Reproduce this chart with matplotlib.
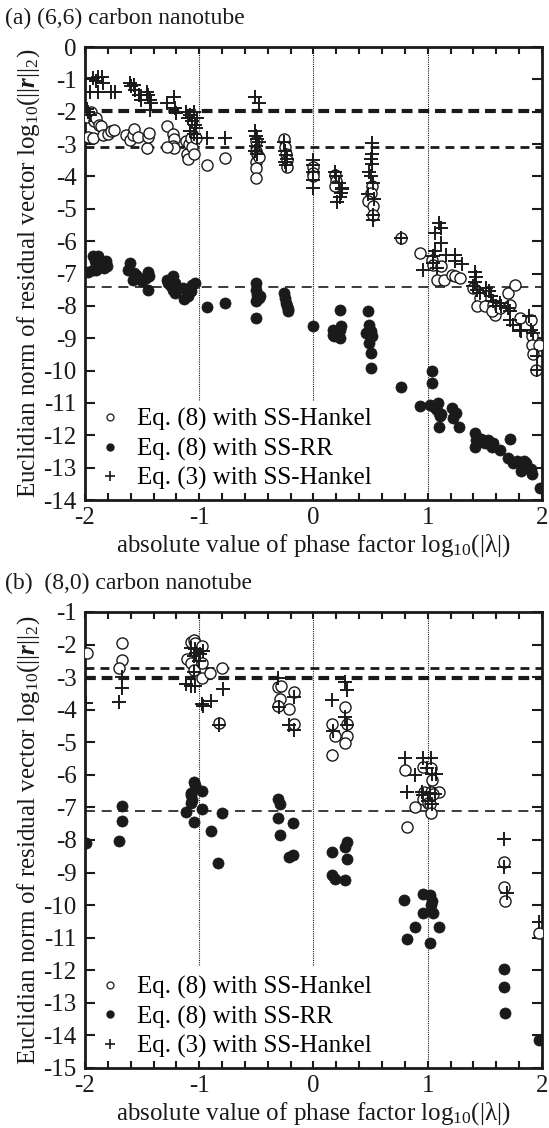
"""
Residual norm vs. phase factor for (6,6) and (8,0) carbon nanotubes.
Saves out.png.
"""

import matplotlib
matplotlib.use("Agg")
import matplotlib.pyplot as plt
from matplotlib.lines import Line2D
from matplotlib.ticker import MultipleLocator

plt.rcParams["font.family"] = ["Liberation Serif", "DejaVu Serif"]
plt.rcParams["mathtext.fontset"] = "custom"
plt.rcParams["mathtext.rm"] = "Liberation Serif"
plt.rcParams["mathtext.it"] = "Liberation Serif:italic"
plt.rcParams["mathtext.bf"] = "Liberation Serif:bold"
plt.rcParams["mathtext.bfit"] = "Liberation Serif:italic:bold"
plt.rcParams["axes.unicode_minus"] = False

INK = "#1a1a1a"

# ---- panel (a): (6,6) nanotube ----
a_h8 = [(-1.98, -2.15), (-1.95, -2.0), (-1.92, -2.3), (-1.90, -2.2), (-1.88, -2.4), (-1.86, -2.45),
        (-1.97, -2.77), (-1.93, -2.82), (-1.84, -2.72), (-1.80, -2.7), (-1.77, -2.6), (-1.75, -2.55),
        (-1.64, -2.72), (-1.61, -2.87), (-1.58, -2.72), (-1.57, -2.52), (-1.54, -2.77), (-1.46, -3.13),
        (-1.45, -2.77), (-1.44, -2.65), (-1.28, -2.45), (-1.23, -2.7), (-1.22, -2.85), (-1.23, -3.05),
        (-1.22, -3.13), (-1.28, -3.1), (-1.12, -2.9), (-1.11, -3.3), (-1.10, -3.45), (-1.09, -3.0),
        (-1.07, -2.8), (-1.06, -3.1), (-1.05, -3.3), (-1.03, -2.8), (-0.935, -3.64), (-0.775, -3.44),
        (-0.50, -2.9), (-0.50, -3.2), (-0.50, -3.55), (-0.50, -3.75), (-0.50, -4.05), (-0.49, -3.3),
        (-0.48, -3.4), (-0.26, -2.85), (-0.25, -3.1), (-0.24, -3.3), (-0.23, -3.5), (-0.23, -3.7),
        (0.0, -3.7), (0.0, -3.9), (0.0, -4.0), (0.19, -3.95), (0.20, -4.15), (0.19, -4.3),
        (0.51, -4.3), (0.50, -4.5), (0.48, -4.75), (0.52, -4.9), (0.52, -5.2), (0.77, -5.9),
        (0.93, -6.37), (1.035, -6.57), (1.05, -6.73), (1.12, -6.78), (1.08, -7.19), (1.14, -7.19),
        (1.21, -7.04), (1.24, -7.09), (1.28, -7.14), (1.40, -7.45), (1.46, -7.76), (1.43, -8.01),
        (1.50, -8.01), (1.57, -7.96), (1.59, -8.27), (1.56, -8.17), (1.63, -8.07), (1.70, -7.6),
        (1.72, -7.96), (1.76, -7.35), (1.81, -8.38), (1.90, -8.43), (1.91, -8.94), (1.91, -9.2),
        (1.92, -9.5), (1.95, -9.97), (1.97, -9.2)]
a_h8_x = [p[0] for p in a_h8]
a_h8_y = [p[1] for p in a_h8]

a_h3 = [(-1.98, -1.9), (-1.97, -2.0), (-1.96, -2.1), (-1.96, -1.38), (-1.93, -0.97), (-1.90, -1.05),
        (-1.89, -0.92), (-1.85, -0.92), (-1.84, -1.1), (-1.89, -1.4), (-1.77, -1.38), (-1.74, -1.38),
        (-1.61, -1.12), (-1.60, -1.2), (-1.57, -1.17), (-1.56, -1.33), (-1.53, -1.48), (-1.51, -1.64),
        (-1.46, -1.38), (-1.45, -1.48), (-1.43, -1.64), (-1.42, -1.74), (-1.43, -1.95), (-1.28, -1.74),
        (-1.22, -1.53), (-1.21, -1.89), (-1.20, -2.05), (-1.12, -2.0), (-1.10, -2.2), (-1.08, -2.1),
        (-1.06, -2.3), (-1.05, -2.0), (-1.04, -2.4), (-1.03, -2.5), (-1.02, -2.2), (-1.08, -2.6),
        (-1.05, -2.7), (-1.02, -2.8), (-0.935, -2.82), (-0.775, -2.82), (-0.51, -1.53), (-0.48, -1.74),
        (-0.51, -2.6), (-0.50, -2.75), (-0.49, -2.85), (-0.48, -2.95), (-0.50, -3.05), (-0.51, -3.2),
        (-0.49, -3.3), (-0.26, -2.95), (-0.25, -3.2), (-0.24, -3.35), (-0.23, -3.45), (-0.25, -3.55),
        (-0.24, -3.65), (0.0, -3.5), (0.0, -3.65), (0.0, -3.85), (0.0, -4.1), (0.0, -4.35),
        (0.19, -3.85), (0.20, -4.0), (0.22, -4.2), (0.25, -4.35), (0.24, -4.5), (0.23, -4.65),
        (0.21, -4.8), (0.25, -4.4), (0.51, -2.97), (0.51, -3.3), (0.50, -3.45), (0.51, -3.6),
        (0.49, -3.85), (0.50, -4.0), (0.52, -4.2), (0.48, -4.55), (0.53, -4.7), (0.52, -5.2),
        (0.52, -5.35), (0.77, -5.9), (1.06, -5.75), (1.10, -5.45), (1.12, -5.6), (1.12, -6.06),
        (1.06, -6.3), (1.05, -6.45), (1.16, -6.42), (1.05, -6.68), (0.96, -6.88), (1.08, -6.82),
        (1.24, -6.42), (1.24, -6.6), (1.30, -6.7), (1.41, -6.94), (1.42, -7.1), (1.41, -7.25),
        (1.40, -7.4), (1.43, -7.5), (1.46, -7.6), (1.51, -7.45), (1.54, -7.55), (1.55, -7.7),
        (1.57, -7.85), (1.60, -8.0), (1.63, -7.9), (1.64, -8.0), (1.70, -8.05), (1.72, -8.15),
        (1.72, -8.45), (1.75, -8.6), (1.81, -8.73), (1.82, -8.78), (1.89, -8.3), (1.90, -8.73),
        (1.92, -8.83), (1.96, -9.55), (1.96, -9.97)]
a_h3_x = [p[0] for p in a_h3]
a_h3_y = [p[1] for p in a_h3]

a_rr = [(-1.97, -6.94), (-1.93, -6.47), (-1.91, -6.6), (-1.89, -6.47), (-1.90, -6.88), (-1.93, -6.88),
        (-1.85, -6.68), (-1.82, -6.62), (-1.81, -6.77), (-1.83, -6.82), (-1.86, -6.77), (-1.61, -6.68),
        (-1.62, -6.88), (-1.57, -6.99), (-1.58, -7.19), (-1.55, -7.04), (-1.53, -7.14), (-1.50, -7.24),
        (-1.47, -7.14), (-1.45, -6.94), (-1.44, -7.09), (-1.45, -7.5), (-1.28, -7.19), (-1.27, -7.29),
        (-1.23, -7.09), (-1.21, -7.29), (-1.23, -7.5), (-1.21, -7.6), (-1.25, -7.4), (-1.14, -7.45),
        (-1.13, -7.8), (-1.10, -7.7), (-1.09, -7.5), (-1.07, -7.55), (-1.06, -7.35), (-1.04, -7.29),
        (-0.935, -8.03), (-0.775, -7.91), (-0.50, -7.29), (-0.50, -7.5), (-0.49, -7.65), (-0.48, -7.75),
        (-0.50, -7.86), (-0.47, -7.7), (-0.50, -8.38), (-0.26, -7.6), (-0.25, -7.75), (-0.24, -7.9),
        (-0.23, -8.0), (-0.22, -8.1), (-0.22, -8.17), (0.0, -8.63), (0.23, -8.12), (0.17, -8.73),
        (0.18, -8.94), (0.19, -8.84), (0.23, -8.73), (0.24, -8.63), (0.23, -8.99), (0.17, -8.9),
        (0.48, -8.17), (0.49, -8.58), (0.46, -8.84), (0.50, -8.78), (0.51, -8.94), (0.49, -9.15),
        (0.50, -9.46), (0.50, -9.92), (0.77, -10.5), (0.93, -11.1), (1.04, -10.02), (1.04, -10.38),
        (1.02, -11.05), (1.05, -11.1), (1.07, -11.2), (1.09, -11.0), (1.10, -11.3), (1.11, -11.4),
        (1.12, -11.35), (1.10, -11.75), (1.21, -11.15), (1.22, -11.45), (1.25, -11.3), (1.27, -11.75),
        (1.41, -11.92), (1.42, -12.15), (1.41, -12.35), (1.44, -12.2), (1.47, -12.1), (1.50, -12.25),
        (1.53, -12.15), (1.55, -12.3), (1.56, -12.35), (1.57, -12.25), (1.63, -12.44), (1.72, -12.1),
        (1.70, -12.7), (1.75, -12.85), (1.78, -12.8), (1.82, -12.9), (1.84, -12.8), (1.86, -12.85),
        (1.82, -13.1), (1.88, -13.0), (1.90, -13.05), (1.91, -13.2), (1.98, -13.62)]
a_rr_x = [p[0] for p in a_rr]
a_rr_y = [p[1] for p in a_rr]

# ---- panel (b): (8,0) nanotube ----
b_h8 = [(-1.985, -2.25), (-1.68, -1.96), (-1.68, -2.49), (-1.70, -2.71), (-1.11, -2.46), (-1.07, -1.91),
        (-1.05, -1.86), (-1.04, -1.96), (-1.07, -2.58), (-1.05, -2.78), (-0.98, -2.06), (-0.98, -2.58),
        (-0.98, -3.04), (-0.91, -2.86), (-0.80, -2.73), (-0.83, -4.4), (-0.31, -3.29), (-0.28, -3.27),
        (-0.29, -3.68), (-0.31, -3.89), (-0.21, -3.99), (-0.17, -3.45), (-0.17, -4.44),
        (0.28, -3.93), (0.16, -4.44), (0.19, -4.81), (0.29, -4.81), (0.28, -5.01), (0.16, -5.39),
        (0.29, -4.44), (0.80, -5.85), (0.96, -5.75), (1.03, -5.8), (1.04, -6.16), (0.97, -6.52),
        (1.03, -6.52), (1.10, -6.52), (0.89, -6.98), (0.96, -6.75), (1.0, -6.85), (1.02, -6.9),
        (1.03, -7.16), (0.82, -7.61), (1.05, -6.6), (1.667, -8.67), (1.667, -9.43), (1.68, -9.86),
        (1.97, -10.85)]
b_h8_x = [p[0] for p in b_h8]
b_h8_y = [p[1] for p in b_h8]

b_h3 = [(-1.99, -3.8), (-1.68, -3.01), (-1.68, -3.32), (-1.70, -3.78), (-1.12, -3.21), (-1.07, -2.1),
        (-1.05, -2.36), (-1.04, -2.15), (-1.03, -2.25), (-1.05, -2.83), (-1.04, -3.28), (-1.07, -3.26),
        (-0.99, -2.3), (-0.97, -2.2), (-1.00, -2.5), (-0.98, -3.82), (-0.97, -3.9), (-0.90, -3.72),
        (-0.79, -3.36), (-0.83, -4.46), (-0.31, -3.04), (-0.30, -3.93), (-0.21, -4.47), (-0.17, -3.6),
        (-0.17, -4.62), (0.28, -3.14), (0.29, -3.39), (0.16, -3.7), (0.28, -4.21), (0.29, -4.47),
        (0.17, -4.67), (0.80, -5.49), (0.89, -6.02), (0.82, -6.52), (0.96, -5.49), (1.03, -5.49),
        (0.99, -5.8), (1.04, -5.96), (1.07, -5.96), (0.96, -6.62), (0.95, -6.52), (1.02, -6.55),
        (1.06, -6.58), (1.0, -6.8), (1.04, -6.9), (1.667, -7.98), (1.667, -8.82), (1.69, -9.64),
        (1.97, -10.51)]
b_h3_x = [p[0] for p in b_h3]
b_h3_y = [p[1] for p in b_h3]

b_rr = [(-1.99, -8.1), (-1.68, -6.96), (-1.68, -7.42), (-1.70, -8.02), (-1.05, -6.21), (-1.04, -6.3),
        (-1.07, -6.57), (-1.07, -6.62), (-1.06, -6.77), (-1.07, -6.87), (-0.98, -6.5), (-1.12, -7.13),
        (-1.05, -7.46), (-0.98, -7.05), (-0.90, -7.74), (-0.84, -8.72), (-0.80, -7.16), (-0.31, -6.75),
        (-0.29, -6.9), (-0.31, -7.33), (-0.29, -7.85), (-0.18, -7.47), (-0.21, -8.52), (-0.18, -8.46),
        (0.16, -8.36), (0.28, -8.21), (0.29, -8.05), (0.29, -8.58), (0.16, -9.08), (0.19, -9.21),
        (0.28, -9.23), (0.79, -9.84), (0.96, -9.66), (1.02, -9.7), (1.04, -9.87), (1.03, -10.0),
        (0.96, -10.25), (1.05, -10.25), (0.89, -10.68), (1.10, -10.68), (0.82, -11.05), (1.02, -11.15),
        (1.667, -11.95), (1.667, -12.5), (1.68, -13.3), (1.975, -14.15)]
b_rr_x = [p[0] for p in b_rr]
b_rr_y = [p[1] for p in b_rr]

# reference levels (thick, medium, thin)
a_levels = [-1.97, -3.1, -7.42]
b_levels = [-3.03, -2.72, -7.1]

FS = 18
YLABEL = r"Euclidian norm of residual vector log$_{10}$(||$\mathbfit{r}$||$_2$)"
XLABEL = r"absolute value of phase factor log$_{10}$(|λ|)"


def draw_panel(ax, h8x, h8y, rrx, rry, h3x, h3y, levels, ylim, vline_stop):
    ax.plot(h8x, h8y, "o", ms=8, mfc="white", mec=INK, mew=1.0, zorder=3)
    ax.plot(rrx, rry, "o", ms=8, mfc=INK, mec=INK, mew=0.5, zorder=3)
    ax.plot(h3x, h3y, "+", ms=10, mec=INK, mew=1.4, zorder=4)

    ax.axhline(levels[0], color=INK, lw=3.0, ls=(0, (2.6, 1.4)), zorder=2)
    ax.axhline(levels[1], color=INK, lw=2.0, ls=(0, (3.2, 2.2)), zorder=2)
    ax.axhline(levels[2], color=INK, lw=1.2, ls=(0, (6, 4)), zorder=2)

    frac = (vline_stop - ylim[0]) / (ylim[1] - ylim[0])
    for xv in (-1, 0):
        ax.axvline(xv, ymin=frac, ymax=1, color=INK, lw=0.8, ls=(0, (1, 1)), zorder=1)
    ax.axvline(1, color=INK, lw=0.8, ls=(0, (1, 1)), zorder=1)

    ax.set_xlim(-2, 2)
    ax.set_ylim(*ylim)
    ax.xaxis.set_major_locator(MultipleLocator(1))
    ax.xaxis.set_minor_locator(MultipleLocator(0.2))
    ax.yaxis.set_major_locator(MultipleLocator(1))
    ax.tick_params(which="both", direction="in", top=True, right=True, width=1.5,
                   labelsize=FS, colors=INK)
    ax.tick_params(which="major", axis="y", length=7, pad=6)
    ax.tick_params(which="major", axis="x", length=5, pad=5)
    ax.tick_params(which="minor", length=5)
    for sp in ax.spines.values():
        sp.set_linewidth(2)
        sp.set_color(INK)
    ax.set_xlabel(XLABEL, fontsize=FS, color=INK, labelpad=2)
    ax.set_ylabel(YLABEL, fontsize=FS, color=INK, labelpad=1)

    handles = [
        Line2D([], [], ls="none", marker="o", ms=5, mfc="white", mec=INK, mew=0.9),
        Line2D([], [], ls="none", marker="o", ms=5, mfc=INK, mec=INK),
        Line2D([], [], ls="none", marker="+", ms=7, mec=INK, mew=1.2),
    ]
    labels = ["Eq. (8) with SS-Hankel", "Eq. (8) with SS-RR", "Eq. (3) with SS-Hankel"]
    ax.legend(handles, labels, loc="lower left", fontsize=FS, frameon=False,
              handlelength=1.2, handletextpad=0.5, labelspacing=0.25,
              borderaxespad=0.2, borderpad=0.2)


fig = plt.figure(figsize=(5.49, 11.28), dpi=100)
ax_a = fig.add_axes([0.1548, 0.5567, 0.8324, 0.4016])
ax_b = fig.add_axes([0.1548, 0.0532, 0.8324, 0.4043])

draw_panel(ax_a, a_h8_x, a_h8_y, a_rr_x, a_rr_y, a_h3_x, a_h3_y, a_levels, (-14, 0), -10.9)
draw_panel(ax_b, b_h8_x, b_h8_y, b_rr_x, b_rr_y, b_h3_x, b_h3_y, b_levels, (-15, -1), -11.85)

fig.text(5 / 549, 1 - 18 / 1128, "(a) (6,6) carbon nanotube", fontsize=17, color=INK, va="center")
fig.text(5 / 549, 1 - 583 / 1128, "(b)  (8,0) carbon nanotube", fontsize=17, color=INK, va="center")

fig.savefig("out.png", dpi=100)
